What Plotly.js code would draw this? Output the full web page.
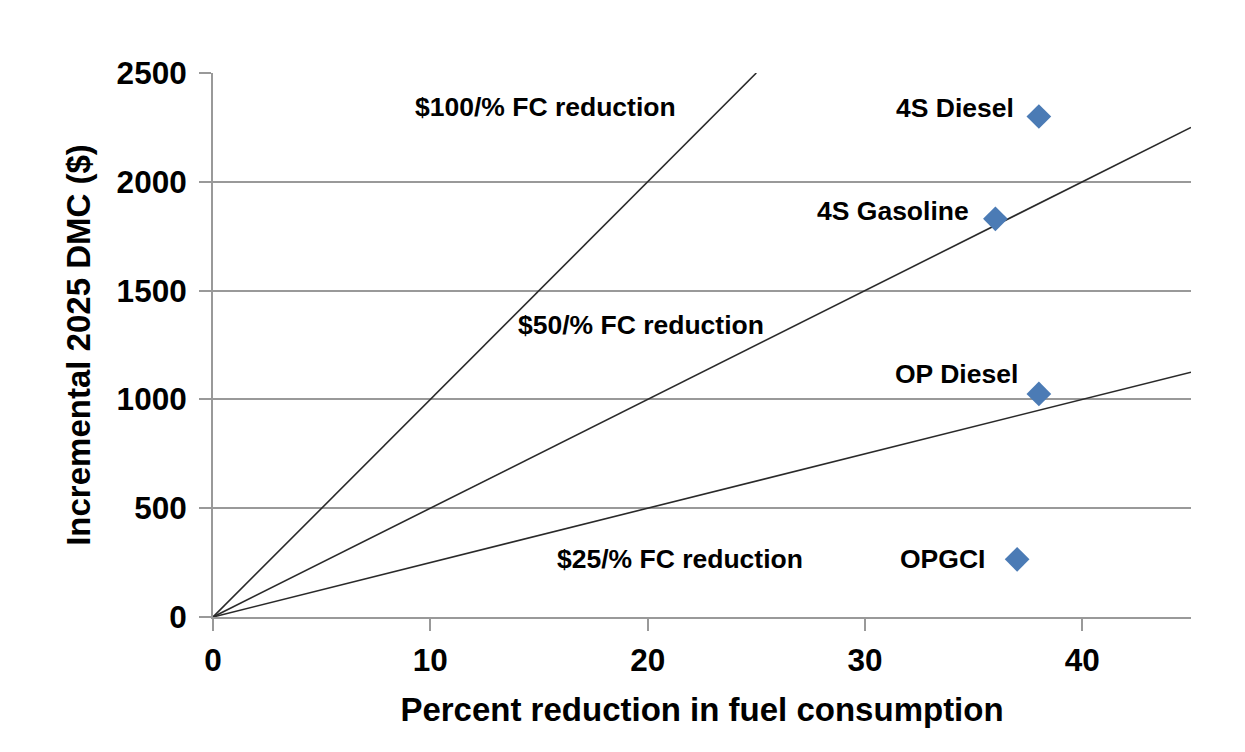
<!DOCTYPE html>
<html><head><meta charset="utf-8">
<script src="https://cdn.plot.ly/plotly-3.0.1.min.js"></script>
<style>body{margin:0;background:#fff}#c{width:1245px;height:752px}</style>
</head><body><div id="c"></div>
<script>
const lineNames = ["$100/% FC reduction", "$50/% FC reduction", "$25/% FC reduction"];
const lineSlopes = [100, 50, 25];
const lineX = [[0, 25], [0, 45], [0, 45]];
const lineLabelX = [15.3, 19.7, 21.5];
const lineLabelY = [2344, 1342, 266];

const techNames = ["4S Diesel", "4S Gasoline", "OP Diesel", "OPGCI"];
const techX = [38, 36, 38, 37];
const techY = [2300, 1830, 1025, 265];
const techLabelX = [36.95, 34.9, 37.15, 35.6];
const techLabelY = [2339, 1866, 1117, 266];

const traces = [];
lineSlopes.forEach((s, i) => {
  traces.push({
    x: lineX[i], y: lineX[i].map(v => v * s), mode: 'lines', type: 'scatter',
    line: {color: '#2a2a2a', width: 1.6}, hoverinfo: 'skip', name: lineNames[i]
  });
});
traces.push({
  x: techX, y: techY, mode: 'markers', type: 'scatter',
  marker: {symbol: 'diamond', size: 19, color: '#4b7bb5', line: {width: 0}},
  name: 'tech'
});

const FAM = 'Liberation Sans, Arial, sans-serif';
const annFont = {family: FAM, size: 26.5, color: '#000'};
const annotations = [];
lineNames.forEach((n, i) => annotations.push({
  x: lineLabelX[i], y: lineLabelY[i], text: '<b>' + n.replace(/\$/g, '&#36;') + '</b>', showarrow: false,
  xanchor: 'center', yanchor: 'middle', font: annFont
}));
techNames.forEach((n, i) => annotations.push({
  x: techLabelX[i], y: techLabelY[i], text: '<b>' + n + '</b>', showarrow: false,
  xanchor: 'right', yanchor: 'middle', font: annFont
}));

const tickFont = {family: FAM, size: 31.5, color: '#000', weight: 'bold'};
const layout = {
  width: 1245, height: 752,
  margin: {l: 213, r: 54, t: 73, b: 135},
  paper_bgcolor: '#fff', plot_bgcolor: '#fff',
  showlegend: false,
  xaxis: {
    range: [0, 45], tickvals: [0, 10, 20, 30, 40], ticktext: ['0', '10', '20', '30', '40'],
    showgrid: false, zeroline: false, showline: true, linecolor: '#999', linewidth: 2,
    ticks: 'outside', ticklen: 12, tickwidth: 2, tickcolor: '#999', ticklabelstandoff: 2,
    tickfont: tickFont,
    title: {text: '<b>Percent reduction in fuel consumption</b>', font: {family: FAM, size: 33, color: '#000'}, standoff: 21}
  },
  yaxis: {
    range: [0, 2500], tickvals: [0, 500, 1000, 1500, 2000, 2500],
    showgrid: true, gridcolor: '#999', gridwidth: 2, zeroline: false,
    showline: true, linecolor: '#999', linewidth: 2,
    ticks: 'outside', ticklen: 12, tickwidth: 2, tickcolor: '#999', ticklabelstandoff: 6,
    tickfont: tickFont,
    title: {text: '<b>Incremental 2025 DMC (&#36;)</b>', font: {family: FAM, size: 33, color: '#000'}, standoff: 16}
  },
  annotations: annotations
};
Plotly.newPlot('c', traces, layout, {displayModeBar: false, staticPlot: true});
</script></body></html>
